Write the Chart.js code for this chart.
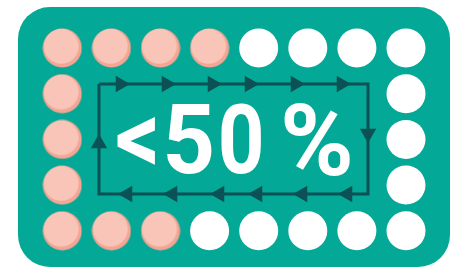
<!DOCTYPE html>
<html>
<head>
<meta charset="utf-8">
<script src="https://cdn.jsdelivr.net/npm/chart.js@4/dist/chart.umd.min.js"></script>
<style>
  html, body { margin: 0; padding: 0; background: #ffffff; }
  #wrap { width: 458px; height: 269px; }
</style>
</head>
<body>
<div id="wrap"><canvas id="c" width="458" height="269"></canvas></div>
<script>
// ---- data (grid units: columns 0..7, rows 0..4) ----
const shareLabel = '<50%';
const columns = [0, 1, 2, 3, 4, 5, 6, 7];
const topRow    = [1, 1, 1, 1, 0, 0, 0, 0];   // 1 = highlighted (pink), 0 = white
const bottomRow = [1, 1, 1, 0, 0, 0, 0, 0];
const sideRows  = [1, 2, 3];
const leftCol   = [1, 1, 1];
const rightCol  = [0, 0, 0];

// inner cycle frame (grid units)
const frameX = [0.747, 6.226, 6.226, 0.747, 0.747];
const frameY = [0.788, 0.788, 3.195, 3.195, 0.788];
const arrowsTopX    = [1.185, 2.122, 3.059, 3.813, 4.749, 5.686];
const arrowsBottomX = [1.328, 2.244, 3.202, 3.976, 4.892, 5.808];
const arrowRightY = [1.871];
const arrowLeftY  = [2.090];

// ---- colours ----
const TEAL = '#04a896';
const DARK = '#0b5156';
const PINK = '#f9c5b9';
const PINK_DARK = '#f4a593';
const WHITE = '#ffffff';

// build dot lists
const pinkPts = [], whitePts = [];
function add(v, x, y) { (v ? pinkPts : whitePts).push({ x, y }); }
columns.forEach((c, i) => add(topRow[i], c, 0));
columns.forEach((c, i) => add(bottomRow[i], c, 4));
sideRows.forEach((r, i) => add(leftCol[i], columns[0], r));
sideRows.forEach((r, i) => add(rightCol[i], columns[columns.length - 1], r));

// pink dot sprite with darker crescent
const R = 19.5;
const sprite = document.createElement('canvas');
sprite.width = 40; sprite.height = 40;
(function () {
  const g = sprite.getContext('2d');
  g.beginPath(); g.arc(20, 20, R, 0, Math.PI * 2); g.fillStyle = PINK_DARK; g.fill();
  g.save();
  g.beginPath(); g.arc(20, 20, R, 0, Math.PI * 2); g.clip();
  g.beginPath(); g.arc(18.9, 18.3, 17.5, 0, Math.PI * 2); g.fillStyle = PINK; g.fill();
  g.restore();
})();

const framePts = frameX.map((x, i) => ({ x, y: frameY[i] }));
const topArrowPts = arrowsTopX.map(x => ({ x, y: frameY[0] }));
const botArrowPts = arrowsBottomX.map(x => ({ x, y: frameY[2] }));
const rightArrowPts = arrowRightY.map(y => ({ x: frameX[1], y }));
const leftArrowPts = arrowLeftY.map(y => ({ x: frameX[0], y }));

function arrowSet(data, rot) {
  return {
    data, showLine: false, pointStyle: 'triangle', rotation: rot,
    pointRadius: 9.5, pointBackgroundColor: DARK, pointBorderWidth: 0,
    pointHoverRadius: 9.5
  };
}

const bgPlugin = {
  id: 'bg',
  beforeDraw(chart) {
    const ctx = chart.ctx;
    ctx.save();
    ctx.fillStyle = WHITE;
    ctx.fillRect(0, 0, chart.width, chart.height);
    ctx.beginPath();
    ctx.roundRect(18, 7, 432, 260, 32);
    ctx.fillStyle = TEAL;
    ctx.fill();
    ctx.restore();
  },
  afterDatasetsDraw(chart) {
    const ctx = chart.ctx;
    const chars = Array.from(shareLabel);
    const boxes = [
      { x0: 117, y0: 117, x1: 155, y1: 165, w: '700' },
      { x0: 167, y0: 103, x1: 212, y1: 174, w: '700' },
      { x0: 221, y0: 102, x1: 261, y1: 174, w: '700' },
      { x0: 284, y0: 103, x1: 350, y1: 176, w: '700' }
    ];
    ctx.save();
    ctx.fillStyle = WHITE;
    chars.forEach((ch, i) => {
      const b = boxes[i];
      ctx.font = b.w + ' 100px Roboto, "Open Sans", sans-serif';
      ctx.textAlign = 'left';
      ctx.textBaseline = 'alphabetic';
      const m = ctx.measureText(ch);
      const iw = m.actualBoundingBoxLeft + m.actualBoundingBoxRight;
      const ih = m.actualBoundingBoxAscent + m.actualBoundingBoxDescent;
      ctx.save();
      ctx.translate(b.x0, b.y0);
      ctx.scale((b.x1 - b.x0) / iw, (b.y1 - b.y0) / ih);
      ctx.fillText(ch, m.actualBoundingBoxLeft, m.actualBoundingBoxAscent);
      ctx.restore();
    });
    ctx.restore();
  }
};

new Chart(document.getElementById('c'), {
  type: 'scatter',
  data: {
    datasets: [
      {
        data: framePts, showLine: true, borderColor: DARK, borderWidth: 3,
        pointRadius: 0, pointHoverRadius: 0, tension: 0, fill: false,
        borderJoinStyle: 'miter', borderCapStyle: 'butt'
      },
      arrowSet(topArrowPts, 90),
      arrowSet(botArrowPts, 270),
      arrowSet(rightArrowPts, 180),
      arrowSet(leftArrowPts, 0),
      {
        data: pinkPts, showLine: false, pointStyle: sprite,
        pointRadius: R, pointHoverRadius: R
      },
      {
        data: whitePts, showLine: false, pointStyle: 'circle',
        pointRadius: R, pointHoverRadius: R,
        pointBackgroundColor: WHITE, pointBorderWidth: 0
      }
    ]
  },
  options: {
    responsive: false,
    animation: false,
    events: [],
    layout: { padding: 0, autoPadding: false },
    plugins: { legend: { display: false }, tooltip: { enabled: false } },
    scales: {
      x: { type: 'linear', display: false, min: -62.3 / 49.1, max: (458 - 62.3) / 49.1 },
      y: { type: 'linear', display: false, reverse: true, min: -48 / 45.7, max: (269 - 48) / 45.7 }
    }
  },
  plugins: [bgPlugin]
});
</script>
</body>
</html>
